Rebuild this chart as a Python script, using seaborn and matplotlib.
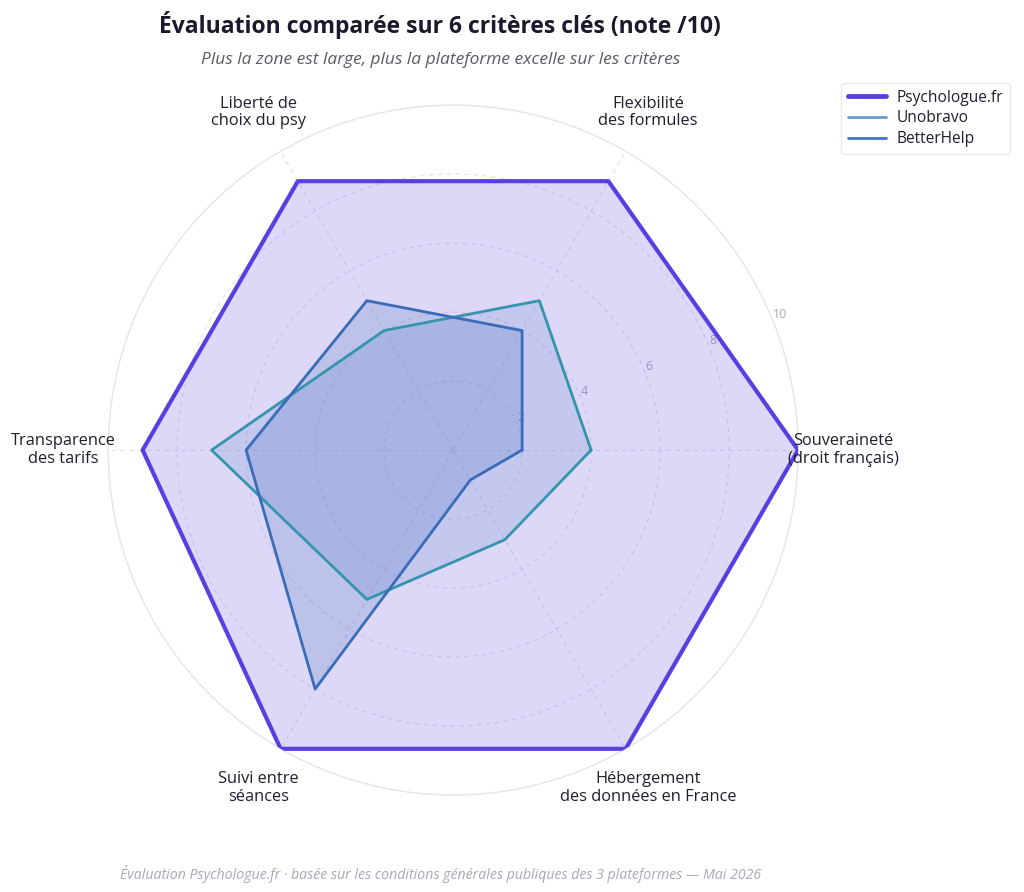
import numpy as np
import pandas as pd
import matplotlib.pyplot as plt
import seaborn as sns
from matplotlib.lines import Line2D

# --- 1. DATA ---
criteria = ['Souveraineté\n(droit français)', 'Flexibilité\ndes formules', 'Liberté de\nchoix du psy',
            'Transparence\ndes tarifs', 'Suivi entre\nséances', 'Hébergement\ndes données en France']
psychologue = [10, 9, 9, 9, 10, 10]
unobravo = [4, 5, 4, 7, 5, 3]
betterhelp = [2, 4, 5, 6, 8, 1]

series = {'Psychologue.fr': psychologue, 'Unobravo': unobravo, 'BetterHelp': betterhelp}
line_colors = {'Psychologue.fr': '#5a3fe0', 'Unobravo': '#3694ad', 'BetterHelp': '#3a6cb8'}
fill_colors = {'Psychologue.fr': '#5a3fe0', 'Unobravo': '#5c8ccc', 'BetterHelp': '#3a6cb8'}
legend_colors = {'Psychologue.fr': '#5a3fe0', 'Unobravo': '#6a9bd3', 'BetterHelp': '#3e77c4'}
widths = {'Psychologue.fr': 3.0, 'Unobravo': 2.0, 'BetterHelp': 2.0}

# --- 2. SETUP ---
sns.set_theme(style='white')
plt.rcParams['font.family'] = ['Open Sans', 'DejaVu Sans']

fig = plt.figure(figsize=(10.24, 8.92), dpi=100)
ax = fig.add_axes([0.1055, 0.1087, 0.674, 0.7735], projection='polar')

angles = np.deg2rad(np.arange(len(criteria)) * 60)

# --- 3. RADAR ---
for name, vals in series.items():
    df = pd.DataFrame({'theta': np.append(angles, 2 * np.pi), 'r': vals + vals[:1]})
    ax.fill(df['theta'], df['r'], color=fill_colors[name], alpha=0.2, lw=0, zorder=2)
    sns.lineplot(data=df, x='theta', y='r', ax=ax, sort=False, estimator=None,
                 color=line_colors[name], lw=widths[name], zorder=3, legend=False)

ax.set_ylim(0, 10)
ax.set_yticks([2, 4, 6, 8, 10])
ax.set_yticklabels(['2', '4', '6', '8', '10'], color='#a8a8b8', fontsize=9)
ax.set_rlabel_position(22)
ax.set_xticks(angles)
ax.set_xticklabels([])
ax.grid(True, color='#e0e0ea', lw=0.8, ls=(0, (4, 4)))
ax.spines['polar'].set_color('#e6e6e6')
ax.spines['polar'].set_linewidth(1.0)
ax.set_xlabel('')
ax.set_ylabel('')

for ang, lab in zip(angles, criteria):
    ax.text(ang, 11.3, lab, ha='center', va='center', fontsize=11.8, color='#1e1e30',
            linespacing=1.15, zorder=5, clip_on=False)

# --- 4. LEGEND & TEXT ---
handles = [Line2D([0], [0], color=legend_colors[n], lw=widths[n] + (0.5 if n == 'Psychologue.fr' else 0))
           for n in series]
fig.legend(handles, list(series), loc='upper right', bbox_to_anchor=(0.994, 0.916), frameon=True,
           fontsize=11.2, handlelength=2.4, handletextpad=0.7, edgecolor='#e3e3ea', fancybox=True,
           labelcolor='#1e1e30', borderpad=0.45, labelspacing=0.3)

fig.text(0.43, 0.972, 'Évaluation comparée sur 6 critères clés (note /10)', ha='center', va='center',
         fontsize=16.5, fontweight='bold', color='#1a1a2e')
fig.text(0.43, 0.933, 'Plus la zone est large, plus la plateforme excelle sur les critères', ha='center',
         va='center', fontsize=12.5, style='italic', color='#5a5a6a')
fig.text(0.43, 0.02, 'Évaluation Psychologue.fr · basée sur les conditions générales publiques des 3 plateformes — Mai 2026',
         ha='center', va='center', fontsize=10.2, style='italic', color='#a8a8b8')

fig.savefig('out.png', dpi=100)
